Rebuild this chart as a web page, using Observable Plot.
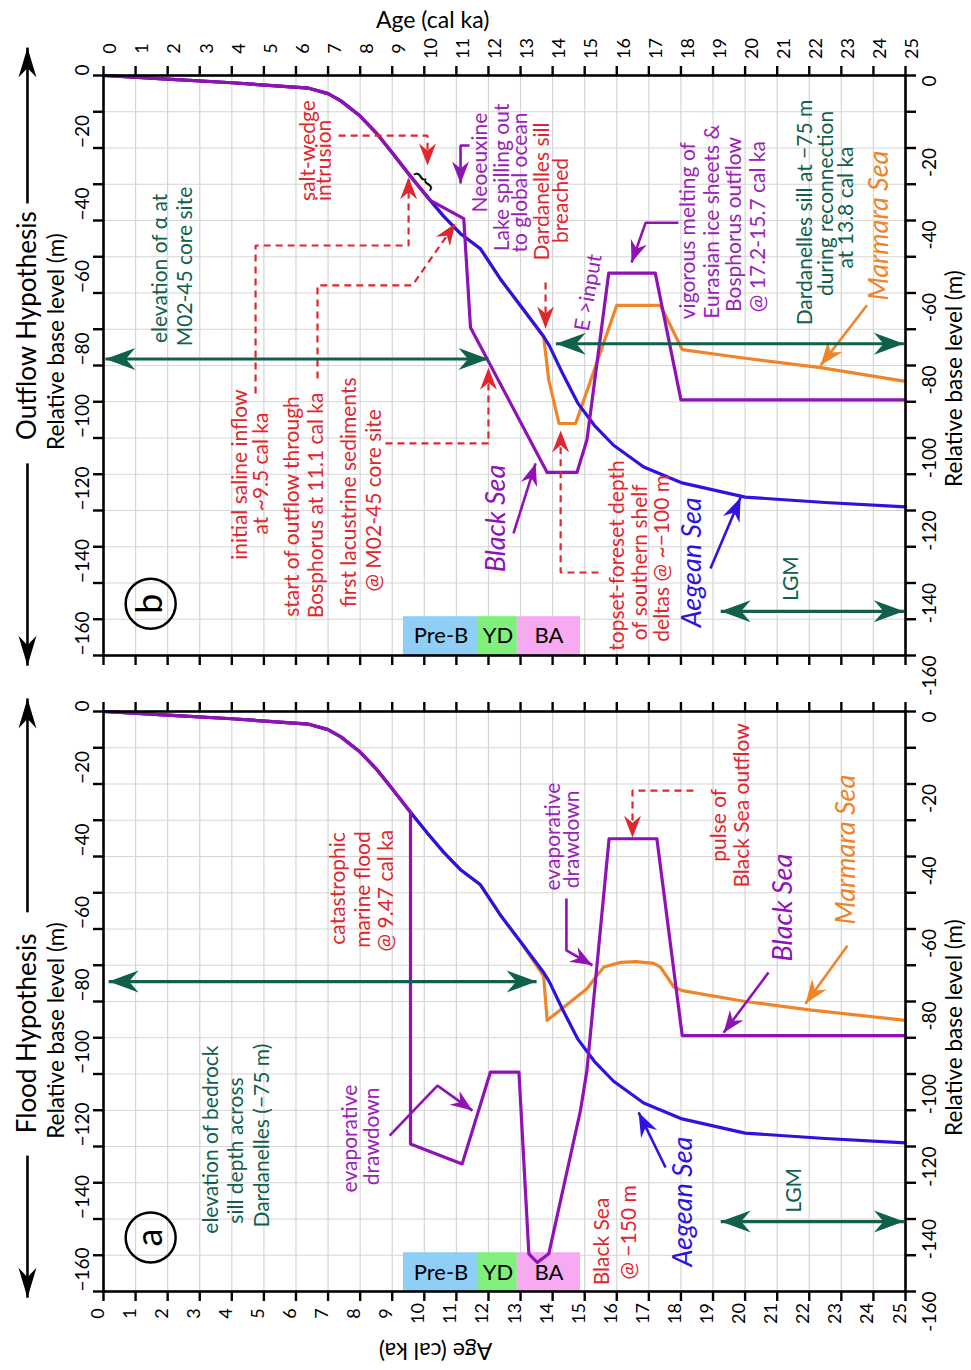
<!DOCTYPE html>
<html>
<head>
<meta charset="utf-8">
<script src="https://cdn.jsdelivr.net/npm/d3@7"></script>
<script src="https://cdn.jsdelivr.net/npm/@observablehq/plot@0.6"></script>
<style>
  body { margin: 0; background: #fff; }
  #chart svg { display: block; }
</style>
</head>
<body>
<div id="chart"></div>
<script>
// ---------------- data ----------------
const ageTicks = [0,1,2,3,4,5,6,7,8,9,10,11,12,13,14,15,16,17,18,19,20,21,22,23,24,25];
const levelTicks = [0,-10,-20,-30,-40,-50,-60,-70,-80,-90,-100,-110,-120,-130,-140,-150,-160];
const levelLabels = [0,-20,-40,-60,-80,-100,-120,-140,-160];

// [age (cal ka), relative base level (m)]
const aegeanSea = [[0,0],[2,-1],[4,-2],[6.4,-3.5],[7,-5],[7.4,-7],[8,-11.2],[8.5,-15.8],[9,-21.3],[9.57,-27.8],[10.1,-33.6],[10.6,-38.8],[11.15,-43.8],[11.75,-47.8],[12.4,-56.5],[13,-63.5],[13.72,-72],[13.9,-74.6],[14.3,-82],[14.78,-90.3],[15.3,-96.5],[15.9,-102],[16.84,-108],[18,-112.3],[20,-116.3],[22.5,-117.8],[25,-119]];

const blackSeaOutflow = [[0,0],[2,-1],[4,-2],[6.4,-3.5],[7,-5],[7.4,-7],[8,-11.2],[8.5,-15.8],[9,-21.3],[9.57,-27.8],[10.2,-34.5],[11.23,-39.5],[11.44,-69.5],[13.83,-109.5],[14.76,-109.5],[15.07,-100.5],[15.75,-54.5],[17.2,-54.5],[18,-89.5],[25,-89.5]];
const marmaraOutflow = [[0,0],[2,-1],[4,-2],[6.4,-3.5],[7,-5],[7.4,-7],[8,-11.2],[8.5,-15.8],[9,-21.3],[9.57,-27.8],[10.1,-33.6],[10.6,-38.8],[11.15,-43.8],[11.75,-47.8],[12.4,-56.5],[13,-63.5],[13.72,-72],[13.88,-84],[14.2,-96],[14.72,-96],[16.0,-63.4],[17.36,-63.4],[18.04,-75.6],[20,-78],[22.35,-80.6],[25,-84.4]];

const blackSeaFlood = [[0,0],[2,-1],[4,-2],[6.4,-3.5],[7,-5],[7.4,-7],[8,-11.2],[8.5,-15.8],[9,-21.3],[9.57,-27.8],[9.57,-119.3],[11.18,-124.8],[12.06,-99.5],[12.95,-99.5],[13.26,-149.6],[13.52,-152],[13.88,-149.6],[14.87,-110],[15.07,-99],[15.76,-35.1],[17.25,-35.1],[18.04,-89.4],[25,-89.4]];
const marmaraFlood = [[0,0],[2,-1],[4,-2],[6.4,-3.5],[7,-5],[7.4,-7],[8,-11.2],[8.5,-15.8],[9,-21.3],[9.57,-27.8],[10.1,-33.6],[10.6,-38.8],[11.15,-43.8],[11.75,-47.8],[12.4,-56.5],[13,-63.5],[13.72,-73],[13.83,-85.2],[15.07,-76.5],[15.34,-73.3],[15.6,-70.5],[16.12,-69.2],[16.6,-69],[17.15,-69.5],[17.36,-70.5],[17.78,-76],[18.04,-77],[20,-80],[22,-82.3],[25,-85.2]];

const periodNames = ["Pre-B", "YD", "BA"];
const periodStart = [9.35, 11.69, 12.9];
const periodEnd = [11.69, 12.9, 14.87];

// ---------------- colours ----------------
const BLUE = "#2d12e0", PURPLE = "#8f12b5", ORANGE = "#ef8428";
const RED = "#e0262e", GREEN = "#10604c", PTXT = "#9b22b8";
const periodColors = ["#8fcff6", "#7ff07c", "#f7aaf2"];

const periods = periodNames.map((name, i) => ({name, start: periodStart[i], end: periodEnd[i], color: periodColors[i]}));

// ---------------- annotations (data units) ----------------
const outflowNotes = [
  {x:1.78, y:-53.2, t:"elevation of α at", c:GREEN},
  {x:2.56, y:-52.7, t:"M02-45 core site", c:GREEN},
  {x:6.39, y:-20.7, t:"salt-wedge", c:RED},
  {x:6.89, y:-23.4, t:"intrusion", c:RED},
  {x:4.27, y:-110.1, t:"initial saline inflow", c:RED},
  {x:4.93, y:-109.8, t:"at ~9.5 cal ka", c:RED},
  {x:5.89, y:-118.9, t:"start of outflow through", c:RED},
  {x:6.64, y:-118.6, t:"Bosphorus at 11.1 cal ka", c:RED},
  {x:7.67, y:-115, t:"first lacustrine sediments", c:RED},
  {x:8.45, y:-117.2, t:"@ M02-45 core site", c:RED},
  {x:11.75, y:-24, t:"Neoeuxine", c:PTXT},
  {x:12.44, y:-28.1, t:"Lake spilling out", c:PTXT},
  {x:13.0, y:-29.5, t:"to global ocean", c:PTXT},
  {x:13.68, y:-32, t:"Dardanelles sill", c:RED},
  {x:14.28, y:-34.5, t:"breached", c:RED},
  {x:15.12, y:-59.9, t:"E >input", c:PTXT, r:-80},
  {x:18.24, y:-42.8, t:"vigorous melting of", c:PTXT},
  {x:18.98, y:-40.3, t:"Eurasian ice sheets &", c:PTXT},
  {x:19.67, y:-41.1, t:"Bosphorus outflow", c:PTXT},
  {x:20.42, y:-41.7, t:"@ 17.2-15.7 cal ka", c:PTXT},
  {x:21.88, y:-37.8, t:"Dardanelles sill at −75 m", c:GREEN},
  {x:22.54, y:-35.3, t:"during reconnection", c:GREEN},
  {x:23.16, y:-36.4, t:"at 13.8 cal ka", c:GREEN},
  {x:16.02, y:-132.4, t:"topset-foreset depth", c:RED},
  {x:16.74, y:-134.3, t:"of southern shelf", c:RED},
  {x:17.43, y:-133.2, t:"deltas @ ~−100 m", c:RED},
  {x:21.45, y:-138.8, t:"LGM", c:GREEN}
];
const outflowSeaLabels = [
  {x:24.19, y:-41.4, t:"Marmara Sea", c:ORANGE},
  {x:12.25, y:-122.2, t:"Black Sea", c:PURPLE},
  {x:18.36, y:-134.3, t:"Aegean Sea", c:BLUE}
];
const floodNotes = [
  {x:3.37, y:-118.1, t:"elevation of bedrock", c:GREEN},
  {x:4.15, y:-121.1, t:"sill depth across", c:GREEN},
  {x:4.96, y:-117, t:"Dardanelles (−75 m)", c:GREEN},
  {x:7.33, y:-48.8, t:"catastrophic", c:RED},
  {x:8.1, y:-49.1, t:"marine flood", c:RED},
  {x:8.82, y:-49.4, t:"@ 9.47 cal ka", c:RED},
  {x:7.7, y:-117.8, t:"evaporative", c:PTXT},
  {x:8.39, y:-117.2, t:"drawdown", c:PTXT},
  {x:14.03, y:-34.5, t:"evaporative", c:PTXT},
  {x:14.62, y:-35.3, t:"drawdown", c:PTXT},
  {x:19.2, y:-31.4, t:"pulse of", c:RED},
  {x:19.92, y:-25.9, t:"Black Sea outflow", c:RED},
  {x:15.55, y:-146.2, t:"Black Sea", c:RED},
  {x:16.4, y:-143.7, t:"@ −150 m", c:RED},
  {x:21.54, y:-132.1, t:"LGM", c:GREEN}
];
const floodSeaLabels = [
  {x:21.2, y:-54.1, t:"Black Sea", c:PURPLE},
  {x:23.16, y:-38.1, t:"Marmara Sea", c:ORANGE},
  {x:18.08, y:-135.2, t:"Aegean Sea", c:BLUE}
];

// callouts: points, style
const outflowCallouts = [
  {pts:[[7.33,-16.6],[10.1,-16.6],[10.1,-24.8]], kind:"red"},
  {pts:[[4.74,-87.7],[4.74,-46.9],[9.51,-46.9],[9.51,-28.1]], kind:"red"},
  {pts:[[6.67,-83.6],[6.67,-57.9],[9.63,-57.9],[10.97,-40.8]], kind:"red"},
  {pts:[[8.79,-101.5],[12.0,-101.5],[12.0,-80.6]], kind:"red"},
  {pts:[[13.78,-57.1],[13.78,-69.8]], kind:"red"},
  {pts:[[15.43,-137.1],[14.25,-137.1],[14.25,-97.9]], kind:"red"},
  {pts:[[11.41,-19.3],[11.13,-19.3],[11.13,-29.8]], kind:"purple"},
  {pts:[[17.92,-40.6],[16.9,-40.6],[16.46,-51.6]], kind:"purple"},
  {pts:[[12.78,-126.3],[13.47,-107]], kind:"purple"},
  {pts:[[23.8,-63.4],[22.35,-80]], kind:"orange"},
  {pts:[[18.92,-136],[19.86,-116.4]], kind:"blue"},
  {pts:[[0.06,-78.2],[12.0,-78.2]], kind:"green"},
  {pts:[[14.1,-74],[24.95,-74]], kind:"green"},
  {pts:[[19.24,-147.8],[24.95,-147.8]], kind:"green"},
  {pts:[[-2.37,-35.3],[-2.37,7.7]], kind:"black"},
  {pts:[[-2.37,-107],[-2.37,-162.8]], kind:"black"}
];
const floodCallouts = [
  {pts:[[18.39,-21.8],[16.49,-21.8],[16.49,-34.8]], kind:"red"},
  {pts:[[8.92,-117],[10.41,-103.2],[11.5,-110.1]], kind:"purple"},
  {pts:[[14.43,-51.6],[14.43,-65.9],[15.24,-70]], kind:"purple"},
  {pts:[[20.73,-72],[19.33,-88.6]], kind:"purple"},
  {pts:[[23.19,-64.6],[21.88,-80.6]], kind:"orange"},
  {pts:[[17.52,-125.8],[16.68,-110.6]], kind:"blue"},
  {pts:[[0.16,-74.5],[13.5,-74.5]], kind:"green"},
  {pts:[[19.24,-140.7],[24.95,-140.7]], kind:"green"},
  {pts:[[-2.37,-55.4],[-2.37,3.6]], kind:"black"},
  {pts:[[-2.37,-122.5],[-2.37,-161.7]], kind:"black"}
];

const styles = {
  red:    {color: RED,    w: 2.2, dash: "7,5", L: 22, W: 17},
  purple: {color: PURPLE, w: 2.6, L: 22, W: 17},
  orange: {color: ORANGE, w: 2.6, L: 24, W: 18},
  blue:   {color: BLUE,   w: 2.6, L: 24, W: 18},
  green:  {color: GREEN,  w: 3.2, L: 30, W: 22, both: true},
  black:  {color: "#000", w: 2.6, L: 30, W: 18}
};

// ---------------- panel builder ----------------
function makePanel(p) {
  const W = 971, H = 685, ML = 103, MR = 66;
  const kx = (W - ML - MR) / 25, ky = (H - p.mt - p.mb) / 160;
  const head = (L, Wd) => ({draw(ctx) {
    ctx.moveTo(0, 0); ctx.lineTo(Wd / 2, L); ctx.lineTo(0, L * 0.68); ctx.lineTo(-Wd / 2, L); ctx.closePath();
  }});
  function callout({pts, kind}) {
    const o = styles[kind];
    const tips = [];
    const add = (a, b) => tips.push({x: a[0], y: a[1], ang: Math.atan2((a[0] - b[0]) * kx, (a[1] - b[1]) * ky) * 180 / Math.PI});
    add(pts[pts.length - 1], pts[pts.length - 2]);
    if (o.both) add(pts[0], pts[1]);
    return [
      Plot.line(pts, {x: d => d[0], y: d => d[1], stroke: o.color, strokeWidth: o.w, strokeDasharray: o.dash, strokeLinecap: "butt", strokeLinejoin: "miter"}),
      Plot.dot(tips, {x: "x", y: "y", rotate: "ang", symbol: head(o.L, o.W), fill: o.color, stroke: "none"})
    ];
  }
  const series = (data, color) => Plot.line(data, {x: d => d[0], y: d => d[1], stroke: color, strokeWidth: 3.2, strokeLinejoin: "round", strokeLinecap: "round"});

  return Plot.plot({
    width: W, height: H,
    marginLeft: ML, marginRight: MR, marginTop: p.mt, marginBottom: p.mb,
    x: {domain: [0, 25]},
    y: {domain: [-160, 0]},
    color: {type: "identity"},
    style: {fontFamily: "Lato, 'Open Sans', sans-serif", fontSize: "17px", background: "white", color: "black", overflow: "visible"},
    marks: [
      Plot.gridX(ageTicks, {stroke: "#d5d5d5", strokeOpacity: 1, strokeWidth: 1.2}),
      Plot.gridY(levelTicks, {stroke: "#d5d5d5", strokeOpacity: 1, strokeWidth: 1.2}),
      Plot.rect(periods, {x1: "start", x2: "end", y1: -160, y2: -149.3, fill: "color"}),
      series(p.marmara, ORANGE),
      series(aegeanSea, BLUE),
      series(p.black, PURPLE),
      ...p.callouts.flatMap(callout),
      Plot.text(periods, {x: d => (d.start + d.end) / 2, y: p.periodLabelY, text: "name", fontSize: 22, fill: "black"}),
      Plot.text(p.notes, {x: "x", y: "y", text: "t", fill: "c", rotate: d => d.r ?? -90, fontSize: 21}),
      Plot.text(p.seaLabels, {x: "x", y: "y", text: "t", fill: "c", rotate: -90, fontSize: 27, fontStyle: "italic"}),
      // panel letter
      Plot.dot([p.letter], {x: "x", y: "y", r: 25, stroke: "black", strokeWidth: 2.5, fill: "none"}),
      Plot.text([p.letter], {x: "x", y: "y", text: "t", rotate: -90, fontSize: 36, fill: "black"}),
      ...(p.brace ? [Plot.text([p.brace], {x: "x", y: "y", text: "t", rotate: -45, fontSize: 26, fill: "black"})] : []),
      // hypothesis & axis titles
      Plot.text([p.hyp], {x: "x", y: "y", text: "t", rotate: -90, fontSize: 26, fill: "black"}),
      Plot.text(p.yTitles, {x: "x", y: "y", text: () => "Relative base level (m)", rotate: -90, fontSize: 22.5, fill: "black"}),
      Plot.text([p.xTitle], {x: "x", y: "y", text: () => "Age (cal ka)", rotate: p.xTitle.r, fontSize: 23, fill: "black"}),
      // frame & ticks
      Plot.frame({stroke: "black", strokeWidth: 2.6}),
      Plot.axisX(ageTicks, {anchor: "top", tickSize: 10, strokeWidth: 2.4, fill: "none", label: null}),
      Plot.axisX(ageTicks, {anchor: "bottom", tickSize: 10, strokeWidth: 2.4, fill: "none", label: null}),
      Plot.axisY(levelTicks, {anchor: "left", tickSize: 10, strokeWidth: 2.4, fill: "none", label: null}),
      Plot.axisY(levelTicks, {anchor: "right", tickSize: 10, strokeWidth: 2.4, fill: "none", label: null}),
      // tick labels
      Plot.text(ageTicks, {x: d => d, frameAnchor: p.ageAnchor, dy: p.ageDy, text: d => String(d), rotate: -90, fontSize: 18, fill: "black"}),
      Plot.text(levelLabels, {y: d => d, frameAnchor: "left", dx: -21, text: d => d === 0 ? "0" : "−" + Math.abs(d), rotate: -90, fontSize: 19, fill: "black"}),
      Plot.text(levelLabels, {y: d => d, frameAnchor: "right", dx: 24, text: d => d === 0 ? "0" : "-" + Math.abs(d), rotate: -90, fontSize: 19, fill: "black"})
    ]
  });
}

const chart = document.getElementById("chart");

chart.append(makePanel({
  mt: 75, mb: 30,
  black: blackSeaOutflow, marmara: marmaraOutflow,
  callouts: outflowCallouts,
  notes: outflowNotes, seaLabels: outflowSeaLabels,
  periodLabelY: -154.6,
  letter: {x: 1.47, y: -145.7, t: "b"},
  brace: {x: 9.98, y: -29, t: "}"},
  hyp: {x: -2.37, y: -69, t: "Outflow Hypothesis"},
  yTitles: [{x: -1.47, y: -73.4}, {x: 26.53, y: -83.6}],
  xTitle: {x: 10.26, y: 15.2, r: 0},
  ageAnchor: "top", ageDy: -27
}));

chart.append(makePanel({
  mt: 26, mb: 79,
  black: blackSeaFlood, marmara: marmaraFlood,
  callouts: floodCallouts,
  notes: floodNotes, seaLabels: floodSeaLabels,
  periodLabelY: -154.8,
  letter: {x: 1.47, y: -145.1, t: "a"},
  brace: null,
  hyp: {x: -2.37, y: -88.8, t: "Flood Hypothesis"},
  yTitles: [{x: -1.47, y: -88}, {x: 26.53, y: -87.2}],
  xTitle: {x: 10.35, y: -176.3, r: 180},
  ageAnchor: "bottom", ageDy: 22
}));
</script>
</body>
</html>
